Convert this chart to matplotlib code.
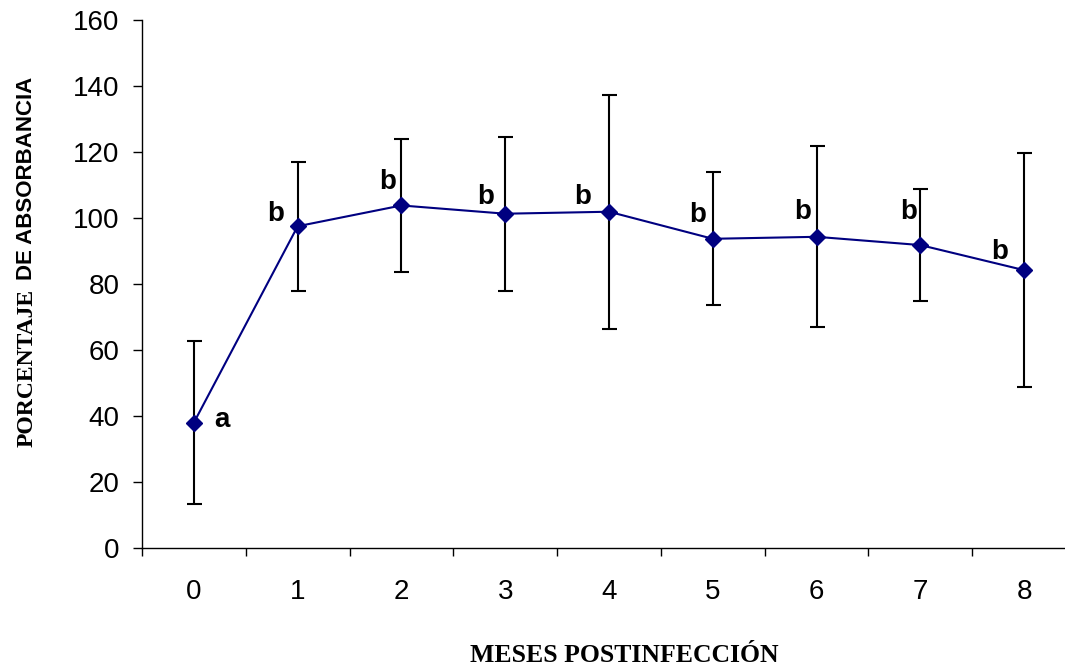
import matplotlib
matplotlib.use('Agg')
import matplotlib.pyplot as plt
import numpy as np

# Data
months = [0, 1, 2, 3, 4, 5, 6, 7, 8]
absorbance = [38.0, 97.5, 103.8, 101.3, 101.9, 93.7, 94.3, 91.8, 84.2]
errors = [24.7, 19.6, 20.1, 23.3, 35.4, 20.2, 27.4, 17.0, 35.4]
letters = ['a', 'b', 'b', 'b', 'b', 'b', 'b', 'b', 'b']
# label offsets (points) relative to each marker, baseline anchored
label_dx = [20, -16, -10, -14.4, -19, -11, -10, -8.4, -17.3]
label_dy = [-3.2, 4, 11.8, 6.8, 5.5, 12, 12.5, 18.5, 7.7]

fig = plt.figure(figsize=(10.65, 6.68), dpi=100)
ax = fig.add_axes([142 / 1065, 120 / 668, 934 / 1065, 528 / 668])

x = np.arange(len(months))
ax.errorbar(x, absorbance, yerr=errors, fmt='none', ecolor='black',
            elinewidth=1.5, capsize=5.4, capthick=1.5, zorder=2)
ax.plot(x, absorbance, color='#000080', linewidth=1.5, marker='D',
        markersize=8, markerfacecolor='#000080', markeredgecolor='#000080', zorder=3)

for xi, yi, lab, dx, dy in zip(x, absorbance, letters, label_dx, label_dy):
    ax.annotate(lab, xy=(xi, yi), xytext=(dx, dy), textcoords='offset points',
                ha='center', va='baseline', fontsize=20, fontweight='bold',
                family='Liberation Sans')

ax.set_xlim(-0.5, len(months) - 0.5)
ax.set_ylim(0, 160)
ax.set_yticks(np.arange(0, 161, 20))
ax.set_xticks(x)
ax.set_xticklabels([str(m) for m in months])
ax.set_xticks(np.arange(-0.5, len(months), 1), minor=True)
ax.tick_params(axis='x', which='major', length=0, pad=22)
ax.tick_params(axis='x', which='minor', length=6, width=1)
ax.tick_params(axis='y', length=6.3, width=1, pad=10)
for lbl in ax.get_xticklabels() + ax.get_yticklabels():
    lbl.set_family('Liberation Sans')
    lbl.set_fontsize(20)

ax.spines['top'].set_visible(False)
ax.spines['right'].set_visible(False)
ax.spines['left'].set_linewidth(1)
ax.spines['bottom'].set_linewidth(1)

# axis titles (mixed fonts as in the original)
fig.text(27 / 1065, 1 - 368 / 668, 'PORCENTAJE', rotation=90, ha='center', va='center',
         family='Liberation Serif', fontweight='bold', fontsize=17)
fig.text(27 / 1065, 1 - 178 / 668, 'DE ABSORBANCIA', rotation=90, ha='center', va='center',
         family='Liberation Sans', fontweight='bold', fontsize=16)
fig.text(624 / 1065, 1 - 655 / 668, 'MESES POSTINFECCIÓN', ha='center', va='center',
         family='Liberation Serif', fontweight='bold', fontsize=18.5)

fig.savefig('out.png', dpi=100)
plt.close()
